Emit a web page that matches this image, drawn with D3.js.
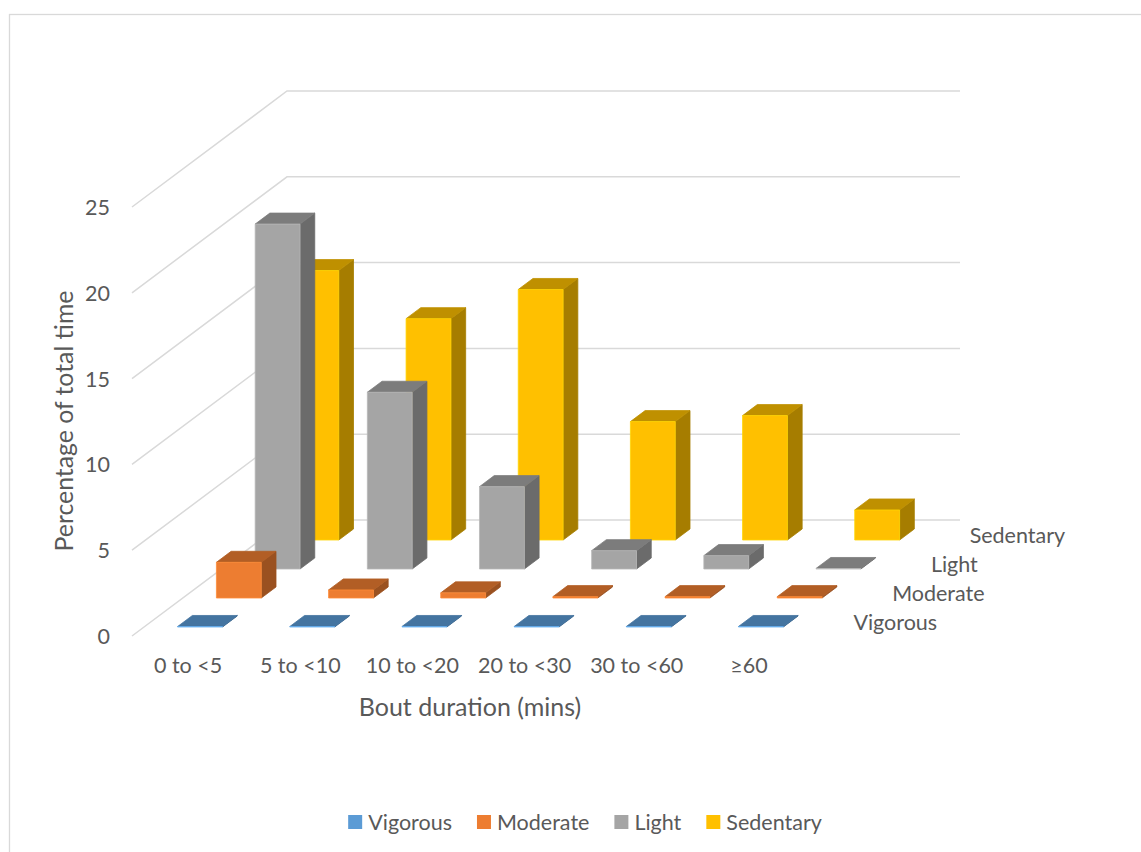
<!DOCTYPE html>
<html><head><meta charset="utf-8">
<script src="https://cdn.jsdelivr.net/npm/d3@7"></script>
<style>
body{margin:0;background:#fff}
text{font-family:Lato,"Open Sans",sans-serif;fill:#595959}
</style>
</head><body>
<svg id="c" width="1141" height="852"></svg>
<script>
const categories = ["0 to <5","5 to <10","10 to <20","20 to <30","30 to <60","≥60"];
const seriesNames = ["Vigorous","Moderate","Light","Sedentary"];
const vigorous  = [0.03, 0.03, 0.03, 0.03, 0.03, 0.03];
const moderate  = [2.08, 0.47, 0.30, 0.08, 0.08, 0.08];
const light     = [20.1, 10.3, 4.8, 1.07, 0.78, 0.03];
const sedentary = [15.7, 12.9, 14.6, 6.9, 7.25, 1.75];
const seriesColors = ["#5B9BD5","#ED7D31","#A5A5A5","#FFC000"];
const yTicks = [0,5,10,15,20,25];
const seriesValues = [vigorous, moderate, light, sedentary];

const svg = d3.select("#c");
const X0 = 132, Y0 = 636, W = 673, DX = 155, DY = 116;
const x = d3.scaleBand().domain(categories).range([0, W]).paddingInner(0.6).paddingOuter(0.3);
const z = d3.scaleBand().domain(seriesNames).range([0, 1]).paddingInner(0.62).paddingOuter(0.31);
const y = d3.scaleLinear().domain([0, 25]).range([0, 429]);
const P = (px, v, pz) => [X0 + px + pz * DX, Y0 - y(v) - pz * DY];
const line = d3.line();
const shade = (c, k) => { const r = d3.rgb(c); return d3.rgb(r.r * k, r.g * k, r.b * k).formatHex(); };

// border
svg.append("rect").attr("x", 9.5).attr("y", 14.5).attr("width", 1200).attr("height", 900)
  .attr("fill", "none").attr("stroke", "#d9d9d9").attr("stroke-width", 1.3);

// gridlines
const grid = svg.append("g").attr("stroke", "#d9d9d9").attr("stroke-width", 1.5).attr("fill", "none");
yTicks.forEach(t => {
  grid.append("path").attr("d", line([P(0, t, 0), P(0, t, 1), P(W, t, 1)]));
});
// y tick labels
svg.append("g").selectAll("text").data(yTicks).join("text")
  .attr("x", d => P(0, d, 0)[0] - 22).attr("y", d => P(0, d, 0)[1])
  .attr("text-anchor", "end").attr("dominant-baseline", "central")
  .attr("font-size", 21.5).text(d => d);

// bars, back row first
const bw = x.bandwidth(), bd = z.bandwidth();
const barsG = svg.append("g");
for (let si = seriesNames.length - 1; si >= 0; si--) {
  const name = seriesNames[si], col = seriesColors[si];
  const top = shade(col, 0.75), side = shade(col, 0.65);
  seriesValues[si].forEach((v, ci) => {
    const x0 = x(categories[ci]), x1 = x0 + bw, z0 = z(name), z1 = z0 + bd;
    const g = barsG.append("g").attr("stroke-width", 0.8).attr("stroke-linejoin", "round");
    g.append("path").attr("d", line([P(x1, 0, z0), P(x1, 0, z1), P(x1, v, z1), P(x1, v, z0)]) + "Z")
      .attr("fill", side).attr("stroke", side);
    g.append("path").attr("d", line([P(x0, v, z0), P(x1, v, z0), P(x1, v, z1), P(x0, v, z1)]) + "Z")
      .attr("fill", top).attr("stroke", top);
    g.append("path").attr("d", line([P(x0, 0, z0), P(x1, 0, z0), P(x1, v, z0), P(x0, v, z0)]) + "Z")
      .attr("fill", col).attr("stroke", d3.rgb(col).brighter(0.3));
  });
}

// category labels
svg.append("g").selectAll("text").data(categories).join("text")
  .attr("x", d => P(x(d) + bw / 2, 0, 0)[0]).attr("y", Y0 + 29)
  .attr("text-anchor", "middle").attr("dominant-baseline", "central")
  .attr("font-size", 21.5).text(d => d);

// series (depth) labels
svg.append("g").selectAll("text").data(seriesNames).join("text")
  .attr("x", d => P(W, 0, z(d) + bd / 2)[0] + 29).attr("y", d => P(W, 0, z(d) + bd / 2)[1])
  .attr("dominant-baseline", "central").attr("font-size", 21.5).text(d => d);

// axis titles
svg.append("text").attr("transform", "translate(63,421) rotate(-90)")
  .attr("text-anchor", "middle").attr("dominant-baseline", "central")
  .attr("font-size", 24.8).text("Percentage of total time");
svg.append("text").attr("x", 470).attr("y", 706)
  .attr("text-anchor", "middle").attr("dominant-baseline", "central")
  .attr("font-size", 25).text("Bout duration (mins)");

// legend
const leg = svg.append("g");
let lx = 0;
seriesNames.forEach((n, i) => {
  const it = leg.append("g");
  it.append("rect").attr("x", 0).attr("y", -7).attr("width", 14).attr("height", 14).attr("fill", seriesColors[i]);
  const t = it.append("text").attr("x", 20).attr("y", 0).attr("dominant-baseline", "central")
    .attr("font-size", 21.5).text(n);
  const w = t.node().getComputedTextLength();
  it.attr("transform", `translate(${lx},822)`);
  lx += 20 + w + 25;
});
const totalW = lx - 25;
leg.attr("transform", `translate(${585 - totalW / 2},0)`);
</script>
</body></html>
